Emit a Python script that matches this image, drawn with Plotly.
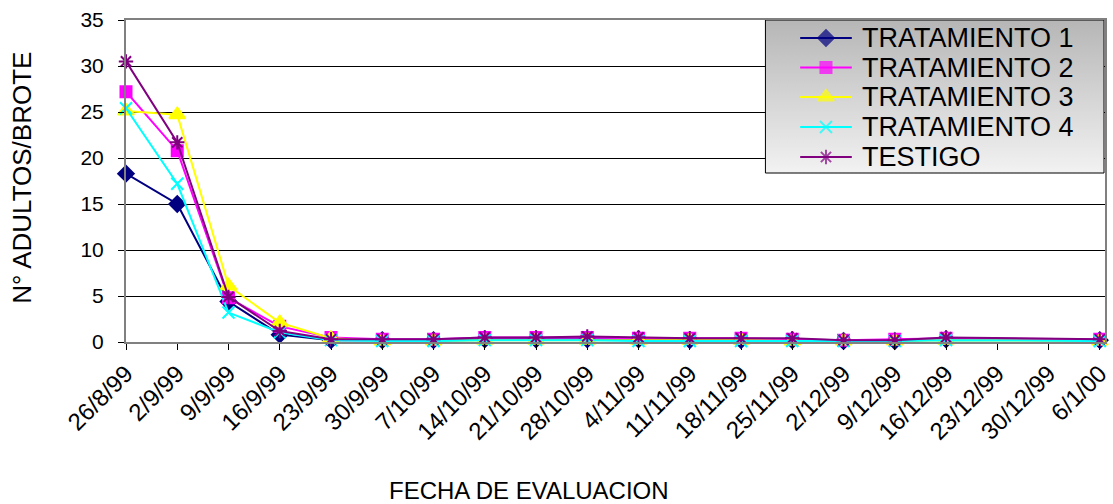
import plotly.graph_objects as go

# ---------------- data ----------------
fechas = ["1999-08-26", "1999-09-02", "1999-09-09", "1999-09-16", "1999-09-23",
          "1999-09-30", "1999-10-07", "1999-10-14", "1999-10-21", "1999-10-28",
          "1999-11-04", "1999-11-11", "1999-11-18", "1999-11-25", "1999-12-02",
          "1999-12-09", "1999-12-16", "2000-01-06"]

tratamiento_1 = [18.3, 15.0, 4.4, 0.8, 0.2, 0.2, 0.2, 0.3, 0.3, 0.3, 0.3, 0.2, 0.2, 0.2, 0.1, 0.1, 0.3, 0.2]
tratamiento_2 = [27.2, 20.8, 4.8, 1.7, 0.5, 0.3, 0.3, 0.5, 0.5, 0.5, 0.4, 0.4, 0.4, 0.3, 0.2, 0.3, 0.4, 0.3]
tratamiento_3 = [25.1, 24.7, 6.1, 2.1, 0.4, 0.1, 0.1, 0.2, 0.2, 0.2, 0.2, 0.2, 0.2, 0.1, 0.1, 0.1, 0.2, 0.1]
tratamiento_4 = [25.4, 17.2, 3.2, 1.05, 0.2, 0.1, 0.1, 0.2, 0.2, 0.2, 0.1, 0.1, 0.1, 0.1, 0.1, 0.1, 0.2, 0.1]
testigo = [30.5, 21.7, 4.9, 1.2, 0.3, 0.3, 0.3, 0.5, 0.5, 0.6, 0.5, 0.4, 0.4, 0.4, 0.2, 0.2, 0.5, 0.3]

nombres = ["TRATAMIENTO 1", "TRATAMIENTO 2", "TRATAMIENTO 3", "TRATAMIENTO 4", "TESTIGO"]
series = [tratamiento_1, tratamiento_2, tratamiento_3, tratamiento_4, testigo]

tick_fechas = ["1999-08-26", "1999-09-02", "1999-09-09", "1999-09-16", "1999-09-23",
               "1999-09-30", "1999-10-07", "1999-10-14", "1999-10-21", "1999-10-28",
               "1999-11-04", "1999-11-11", "1999-11-18", "1999-11-25", "1999-12-02",
               "1999-12-09", "1999-12-16", "1999-12-23", "1999-12-30", "2000-01-06"]
tick_textos = ["26/8/99", "2/9/99", "9/9/99", "16/9/99", "23/9/99", "30/9/99",
               "7/10/99", "14/10/99", "21/10/99", "28/10/99", "4/11/99", "11/11/99",
               "18/11/99", "25/11/99", "2/12/99", "9/12/99", "16/12/99", "23/12/99",
               "30/12/99", "6/1/00"]

y_titulo = "N° ADULTOS/BROTE"
x_titulo = "FECHA DE EVALUACION"

# ---------------- style ----------------
colores = ["#000080", "#FF00FF", "#FFFF00", "#00FFFF", "#800080"]
simbolos = ["diamond", "square", "triangle-up", "x-thin-open", "asterisk-open"]
tamanos = [12, 11, 14, 12, 12]
FONT = "Liberation Sans, Arial, sans-serif"

W, H = 1113, 504
L, R, T, B = 126, 1, 20, 162
PX0, PX1 = L, W - R          # plot area pixel x
PY0, PY1 = T, H - B          # plot area pixel y (top, bottom)


def px_x(p):
    return (p - PX0) / (PX1 - PX0)


def px_y(p):
    return (PY1 - p) / (PY1 - PY0)


fig = go.Figure()

for nombre, vals, col, sym, sz in zip(nombres, series, colores, simbolos, tamanos):
    fig.add_trace(go.Scatter(
        x=fechas, y=vals, name=nombre, mode="lines+markers",
        line=dict(color=col, width=2),
        marker=dict(symbol=sym, size=sz, color=col,
                    line=dict(color=col, width=2)),
        showlegend=False, cliponaxis=False,
    ))

# ---------------- custom legend (overlay axes in pixel units) ----------------
box_x0, box_x1, box_y0, box_y1 = 770, 1111, 20, 173
fig.add_trace(go.Scatter(
    x=[box_x0, box_x1, box_x1, box_x0, box_x0],
    y=[box_y0, box_y0, box_y1, box_y1, box_y0],
    xaxis="x2", yaxis="y2", mode="lines", fill="toself",
    line=dict(color="#000000", width=1),
    fillgradient=dict(type="vertical", start=box_y0, stop=box_y1,
                      colorscale=[[0, "#b6b6b6"], [1, "#f2f2f2"]]),
    showlegend=False, hoverinfo="skip",
))

filas = [38, 67.5, 97, 127, 157]
for nombre, col, sym, sz, fy in zip(nombres, colores, simbolos, tamanos, filas):
    fig.add_trace(go.Scatter(
        x=[805, 831, 857], y=[fy, fy, fy], xaxis="x2", yaxis="y2",
        mode="lines+markers",
        line=dict(color=col, width=2),
        marker=dict(symbol=sym, size=[0, sz, 0], color=col,
                    line=dict(color=col, width=2)),
        showlegend=False, hoverinfo="skip",
    ))
    fig.add_annotation(
        x=px_x(865), y=px_y(fy), xref="paper", yref="paper",
        text=nombre, showarrow=False, xanchor="left", yanchor="middle",
        font=dict(family=FONT, size=27, color="#000000"),
    )

# axis titles
fig.add_annotation(
    x=px_x(532), y=px_y(490), xref="paper", yref="paper", text=x_titulo,
    showarrow=False, xanchor="center", yanchor="middle",
    font=dict(family=FONT, size=24, color="#000000"),
)
fig.add_annotation(
    x=px_x(21), y=px_y(178), xref="paper", yref="paper", text=y_titulo,
    showarrow=False, xanchor="center", yanchor="middle", textangle=-90,
    font=dict(family=FONT, size=26, color="#000000"),
)

fig.update_layout(
    width=W, height=H, autosize=False,
    margin=dict(l=L, r=R, t=T, b=B, pad=0),
    paper_bgcolor="#FFFFFF", plot_bgcolor="#FFFFFF",
    font=dict(family=FONT, size=20, color="#000000"),
    showlegend=False,
    xaxis=dict(
        type="date",
        range=["1999-08-26", "2000-01-06 17:00"],
        tickmode="array", tickvals=tick_fechas, ticktext=tick_textos,
        tickangle=-45,
        ticks="outside", ticklen=6, tickcolor="#000000", tickwidth=1,
        showgrid=False, zeroline=False,
        showline=True, linecolor="#808080", linewidth=2, mirror=True,
        tickfont=dict(family=FONT, size=24, color="#000000"),
        ticklabeloverflow="allow",
    ),
    yaxis=dict(
        range=[0, 35], dtick=5, tick0=0,
        ticks="outside", ticklen=6, tickcolor="#000000", tickwidth=1,
        showgrid=True, gridcolor="#000000", gridwidth=1,
        zeroline=False,
        showline=True, linecolor="#808080", linewidth=2, mirror=True,
        tickfont=dict(family=FONT, size=21, color="#000000"),
        ticklabelstandoff=10,
    ),
    xaxis2=dict(overlaying="x", range=[PX0, PX1], visible=False, fixedrange=True),
    yaxis2=dict(overlaying="y", range=[PY1, PY0], visible=False, fixedrange=True),
)

fig.write_html("out.html",
               config={"displayModeBar": False},
               post_script="document.body.style.margin='0';document.body.style.overflow='hidden';")
